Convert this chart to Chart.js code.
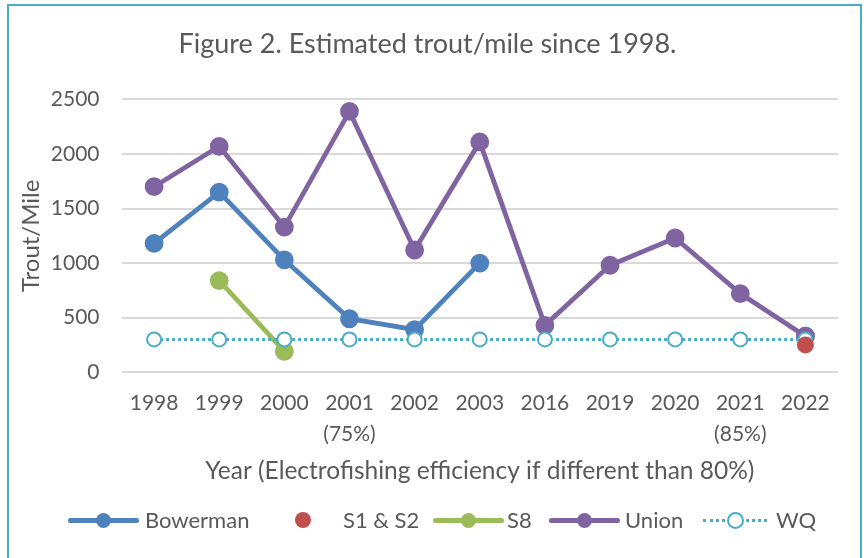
<!DOCTYPE html>
<html>
<head>
<meta charset="utf-8">
<script src="https://cdn.jsdelivr.net/npm/chart.js@4.4.0/dist/chart.umd.min.js"></script>
<style>
    body { margin: 0; background: #fff; font-family: Lato, sans-serif; }
    .khung { position: absolute; left: 7px; top: 4px; width: 851px; height: 570px; border: 2px solid #4bacc6; }
    #wrap { position: absolute; left: 0; top: 0; width: 866px; height: 558px; }
    .chuGiai { position: absolute; top: 506px; left: 0; width: 866px; height: 28px; color: #595959; font-size: 22px; }
    .muc { position: absolute; top: 0; height: 28px; line-height: 28px; white-space: nowrap; }
    .duong { position: absolute; top: 12px; height: 5px; border-radius: 3px; }
    .cham { position: absolute; top: 7px; width: 15px; height: 15px; border-radius: 50%; }
</style>
</head>
<body>
<div class="khung"></div>
<div id="wrap"><canvas id="lineChart" width="866" height="558"></canvas></div>
<div class="chuGiai" id="chuGiai"></div>
<script>
const categories = ['1998', '1999', '2000', '2001', '2002', '2003', '2016', '2019', '2020', '2021', '2022'];
const efficiencyNotes = ['', '', '', '(75%)', '', '', '', '', '', '(85%)', ''];

const bowerman = [1180, 1650, 1030, 490, 390, 1000, null, null, null, null, 330];
const s1s2 = [null, null, null, null, null, null, null, null, null, null, 250];
const s8 = [null, 840, 190, null, null, null, null, null, null, null, null];
const union = [1700, 2070, 1330, 2390, 1120, 2110, 430, 980, 1230, 720, 330];
const wq = [300, 300, 300, 300, 300, 300, 300, 300, 300, 300, 300];

const yTicks = [0, 500, 1000, 1500, 2000, 2500];

const textColor = '#595959';
const labels = categories.map((nam, i) => efficiencyNotes[i] ? [nam, efficiencyNotes[i]] : nam);

const data = {
    labels: labels,
    datasets: [
        {
            label: 'Bowerman', data: bowerman, order: 3,
            borderColor: '#4f81bd', backgroundColor: '#4f81bd',
            borderWidth: 4.8, pointRadius: 7
        },
        {
            label: 'S1 & S2', data: s1s2, order: 0, showLine: false,
            borderColor: '#c0504d', backgroundColor: '#c0504d',
            pointRadius: 8.5, pointBorderWidth: 0
        },
        {
            label: 'S8', data: s8, order: 4,
            borderColor: '#9bbb59', backgroundColor: '#9bbb59',
            borderWidth: 4.8, pointRadius: 7
        },
        {
            label: 'Union', data: union, order: 2,
            borderColor: '#8064a2', backgroundColor: '#8064a2',
            borderWidth: 4.8, pointRadius: 7
        },
        {
            label: 'WQ', data: wq, order: 1,
            borderColor: '#4bacc6', backgroundColor: '#ffffff',
            borderWidth: 3, borderDash: [3, 3], borderCapStyle: 'butt',
            pointRadius: 7, pointBorderWidth: 2
        }
    ]
};

const config = {
    type: 'line',
    data: data,
    options: {
        responsive: false,
        animation: false,
        events: [],
        layout: { padding: { left: 17, right: 28, top: 0, bottom: 72.5 } },
        elements: { line: { tension: 0 } },
        plugins: {
            legend: { display: false },
            tooltip: { enabled: false },
            title: {
                display: true,
                text: 'Figure 2. Estimated trout/mile since 1998.',
                color: textColor,
                font: { family: 'Lato', size: 27, weight: 'normal' },
                padding: { top: 28, bottom: 39 }
            }
        },
        scales: {
            x: {
                offset: true,
                grid: { display: false, drawTicks: false },
                border: { display: false },
                ticks: {
                    color: textColor, padding: 16, maxRotation: 0, autoSkip: false,
                    font: { family: 'Lato', size: 21, lineHeight: 1.45 }
                },
                title: {
                    display: true,
                    text: 'Year (Electrofishing efficiency if different than 80%)',
                    color: textColor,
                    font: { family: 'Lato', size: 24.5 },
                    padding: { top: -9, bottom: 0 }
                }
            },
            y: {
                min: 0, max: 2500,
                afterBuildTicks: (axis) => { axis.ticks = yTicks.map(v => ({ value: v })); },
                grid: { color: '#d9d9d9', lineWidth: 2, drawTicks: false },
                border: { display: false },
                ticks: {
                    color: textColor, padding: 22,
                    font: { family: 'Lato', size: 21 },
                    callback: (value) => String(value)
                },
                title: {
                    display: true,
                    text: 'Trout/Mile',
                    color: textColor,
                    font: { family: 'Lato', size: 24 },
                    padding: { top: 0, bottom: -17 }
                }
            }
        }
    }
};

const ctx = document.getElementById('lineChart').getContext('2d');
const lineChart = new Chart(ctx, config);

// chú giải vẽ bằng HTML cho giống kiểu đường + điểm
const chuGiai = [
    { ten: 'Bowerman', mau: '#4f81bd', x: 68, w: 71, chu: 145, kieu: 'line' },
    { ten: 'S1 & S2', mau: '#c0504d', x: 295, w: 16, chu: 343, kieu: 'dot' },
    { ten: 'S8', mau: '#9bbb59', x: 433, w: 71, chu: 507, kieu: 'line' },
    { ten: 'Union', mau: '#8064a2', x: 549, w: 71, chu: 625, kieu: 'line' },
    { ten: 'WQ', mau: '#4bacc6', x: 703, w: 64, chu: 776, kieu: 'dash' }
];
document.querySelector('#chuGiai').innerHTML = chuGiai.map(({ ten, mau, x, w, chu, kieu }) => {
    let hinh = '';
    const giua = Math.round(w / 2);
    if (kieu === 'line') {
        hinh = `<div class="duong" style="left:${x}px;width:${w}px;background:${mau}"></div>
                <div class="cham" style="left:${x + giua - 8}px;background:${mau}"></div>`;
    } else if (kieu === 'dot') {
        hinh = `<div class="cham" style="left:${x}px;top:6px;width:16px;height:16px;background:${mau}"></div>`;
    } else {
        hinh = `<div style="position:absolute;left:${x}px;top:13px;width:${w}px;border-top:3px dotted ${mau}"></div>
                <div class="cham" style="left:${x + giua - 8}px;top:6px;width:13px;height:13px;border:2px solid ${mau};background:#fff"></div>`;
    }
    return `${hinh}<span class="muc" style="left:${chu}px">${ten}</span>`;
}).join('');
</script>
</body>
</html>
